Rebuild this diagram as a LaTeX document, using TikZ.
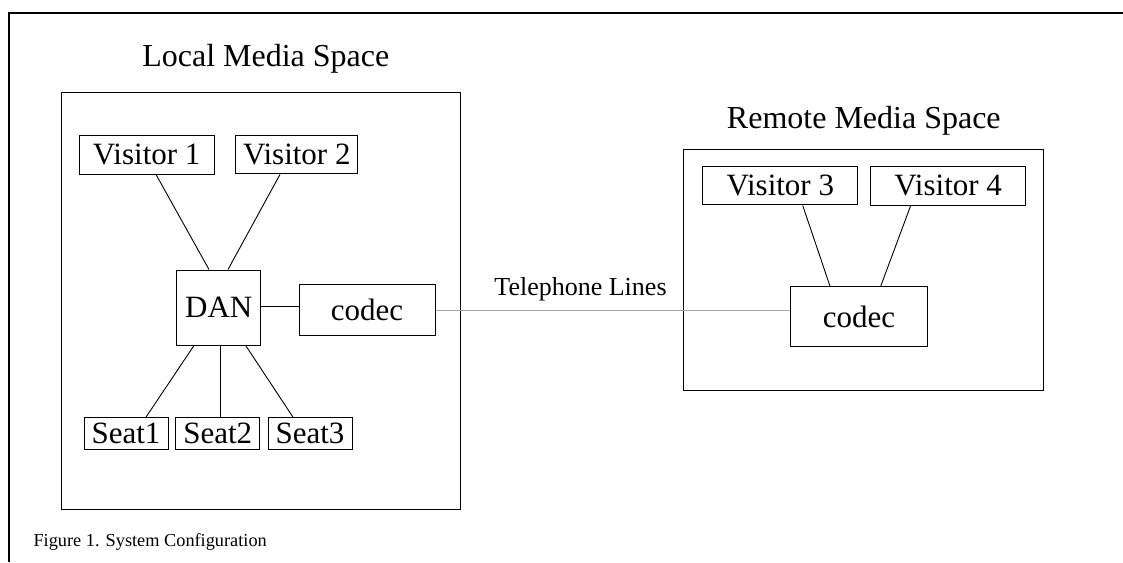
\documentclass[tikz,border=0pt]{standalone}
\usepackage{fontspec}
\setmainfont{Liberation Serif}
\begin{document}
\begin{tikzpicture}[x=1pt,y=-1pt,
  box/.style={draw,line width=1pt,inner sep=0pt,anchor=center,
    font=\fontsize{31}{36}\selectfont},
  area/.style={draw,line width=1pt,inner sep=0pt,anchor=center},
  title/.style={inner sep=0pt,anchor=base,font=\fontsize{32}{38}\selectfont},
  link/.style={line width=0.9pt},
  phone/.style={line width=1pt,draw=black!35}]
\useasboundingbox (0,0) rectangle (1123,562);

% outer frame (top and left edges only)
\draw[line width=1.3pt] (9,562) -- (9,13) -- (1123,13);

% local media space
\node[area,minimum width=399pt,minimum height=417pt] (local) at (260.5,300.5) {};
\node[title] (localtitle) at (265.8,66.7) {Local Media Space};
\node[box,minimum width=134.7pt,minimum height=39pt] (v1) at (146.7,154.5) {Visitor 1};
\node[box,minimum width=122.3pt,minimum height=38.3pt] (v2) at (296.8,154.8) {Visitor 2};
\node[box,minimum width=84pt,minimum height=75pt] (dan) at (218.7,307.5) {DAN};
\node[box,minimum width=136pt,minimum height=50.7pt] (codecA) at (367,309.7) {codec};
\node[box,minimum width=84pt,minimum height=32.3pt] (s1) at (126,433.8) {Seat1};
\node[box,minimum width=84.3pt,minimum height=32.3pt] (s2) at (217.8,433.8) {Seat2};
\node[box,minimum width=84pt,minimum height=32.3pt] (s3) at (310,433.8) {Seat3};

\draw[link] ([xshift=9.3pt]v1.south) -- ([xshift=-9.7pt]dan.north);
\draw[link] ([xshift=-16.8pt]v2.south) -- ([xshift=9.3pt]dan.north);
\draw[link] ([xshift=-24.7pt]dan.south) -- ([xshift=20pt]s1.north);
\draw[link] ([xshift=1.5pt]dan.south) -- ([xshift=1.5pt]dan.south |- s2.north);
\draw[link] ([xshift=27pt]dan.south) -- ([xshift=-17pt]s3.north);
\draw[link] ([yshift=1.5pt]dan.east) -- ([yshift=1.5pt]dan.east -| codecA.west);

% remote media space
\node[area,minimum width=360.3pt,minimum height=241pt] (remote) at (863.2,269.5) {};
\node[title] (remotetitle) at (863.8,128) {Remote Media Space};
\node[box,minimum width=155.3pt,minimum height=38.3pt] (v3) at (780.3,185.8) {Visitor 3};
\node[box,minimum width=155pt,minimum height=39pt] (v4) at (948.2,185.5) {Visitor 4};
\node[box,minimum width=136.7pt,minimum height=60pt] (codecB) at (859,316.7) {codec};

\draw[link] ([xshift=22.4pt]v3.south) -- ([xshift=-29pt]codecB.north);
\draw[link] ([xshift=-37.5pt]v4.south) -- ([xshift=21.7pt]codecB.north);

% telephone connection
\draw[phone] ([yshift=-1pt]codecA.east) -- ([yshift=-1pt]codecA.east -| codecB.west);
\node[inner sep=0pt,anchor=base,font=\fontsize{26}{31}\selectfont] (tel) at (580.5,295) {Telephone Lines};

% caption
\node[inner sep=0pt,anchor=base west,font=\fontsize{18.3}{22}\selectfont] (caption) at (33.3,546.7) {Figure 1. System Configuration};
\end{tikzpicture}
\end{document}
